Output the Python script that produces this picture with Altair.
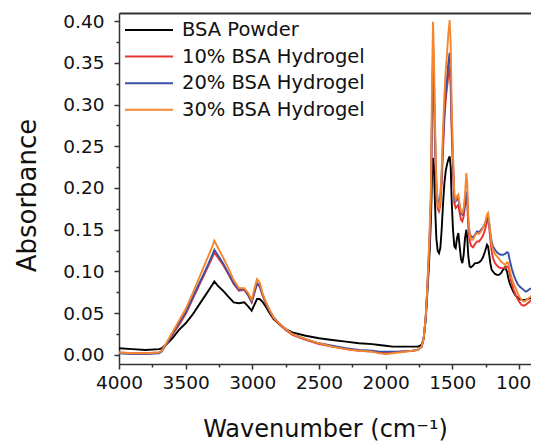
import altair as alt
import pandas as pd

# wavenumber grid (cm-1), 120 points, 10 per line
wavenumber = [
    4000, 3900, 3800, 3700, 3680, 3650, 3600, 3550, 3500, 3450,
    3400, 3350, 3300, 3285, 3260, 3220, 3180, 3140, 3100, 3060,
    3030, 3005, 2985, 2965, 2945, 2925, 2900, 2870, 2840, 2800,
    2750, 2700, 2600, 2500, 2400, 2300, 2200, 2100, 2050, 2000,
    1950, 1900, 1800, 1760, 1730, 1715, 1700, 1690, 1680, 1670,
    1660, 1652, 1645, 1638, 1630, 1620, 1610, 1600, 1590, 1580,
    1570, 1560, 1550, 1540, 1530, 1520, 1512, 1505, 1495, 1485,
    1475, 1465, 1455, 1445, 1435, 1425, 1415, 1405, 1395, 1388,
    1380, 1370, 1360, 1345, 1330, 1315, 1300, 1285, 1270, 1255,
    1240, 1232, 1225, 1215, 1205, 1195, 1180, 1165, 1150, 1135,
    1120, 1105, 1090, 1080, 1070, 1055, 1040, 1025, 1010, 995,
    980, 965, 950, 935, 920, 905, 890, 875, 860, 850,
]

bsa_powder = [
    0.008, 0.007, 0.006, 0.007, 0.008, 0.012, 0.020, 0.030, 0.038, 0.048,
    0.060, 0.072, 0.084, 0.088, 0.083, 0.077, 0.070, 0.063, 0.062, 0.063,
    0.058, 0.053, 0.060, 0.067, 0.067, 0.064, 0.058, 0.050, 0.043, 0.037,
    0.031, 0.027, 0.023, 0.020, 0.018, 0.016, 0.014, 0.013, 0.012, 0.011,
    0.010, 0.010, 0.010, 0.010, 0.012, 0.020, 0.042, 0.068, 0.095, 0.125,
    0.165, 0.215, 0.236, 0.225, 0.180, 0.140, 0.125, 0.122, 0.128, 0.150,
    0.180, 0.205, 0.220, 0.228, 0.234, 0.238, 0.225, 0.185, 0.150, 0.130,
    0.128, 0.140, 0.146, 0.130, 0.115, 0.110, 0.120, 0.140, 0.150, 0.140,
    0.118, 0.106, 0.105, 0.107, 0.110, 0.110, 0.111, 0.113, 0.117, 0.124,
    0.132, 0.130, 0.122, 0.110, 0.102, 0.100, 0.097, 0.096, 0.096, 0.098,
    0.102, 0.105, 0.100, 0.092, 0.086, 0.080, 0.075, 0.071, 0.069, 0.067,
    0.066, 0.066, 0.066, 0.067, 0.068, 0.068, 0.067, 0.066, 0.065, 0.064,
]

hydrogel_10 = [
    0.003, 0.002, 0.002, 0.003, 0.005, 0.012, 0.024, 0.036, 0.049, 0.066,
    0.083, 0.100, 0.117, 0.123, 0.117, 0.108, 0.097, 0.085, 0.077, 0.078,
    0.071, 0.063, 0.074, 0.085, 0.082, 0.072, 0.062, 0.052, 0.044, 0.037,
    0.030, 0.024, 0.018, 0.013, 0.010, 0.007, 0.005, 0.004, 0.003, 0.002,
    0.003, 0.004, 0.005, 0.006, 0.010, 0.020, 0.044, 0.072, 0.104, 0.140,
    0.188, 0.290, 0.335, 0.310, 0.250, 0.195, 0.175, 0.172, 0.180, 0.205,
    0.245, 0.280, 0.305, 0.320, 0.335, 0.345, 0.318, 0.268, 0.222, 0.182,
    0.176, 0.178, 0.180, 0.170, 0.162, 0.160, 0.166, 0.178, 0.190, 0.183,
    0.152, 0.137, 0.131, 0.129, 0.133, 0.136, 0.136, 0.139, 0.143, 0.150,
    0.160, 0.163, 0.155, 0.138, 0.124, 0.116, 0.110, 0.107, 0.105, 0.104,
    0.104, 0.104, 0.106, 0.105, 0.097, 0.086, 0.078, 0.072, 0.067, 0.063,
    0.060, 0.059, 0.060, 0.062, 0.064, 0.066, 0.066, 0.065, 0.065, 0.064,
]

hydrogel_20 = [
    0.002, 0.001, 0.001, 0.002, 0.004, 0.012, 0.025, 0.038, 0.051, 0.068,
    0.085, 0.102, 0.120, 0.126, 0.120, 0.110, 0.098, 0.086, 0.078, 0.079,
    0.072, 0.064, 0.075, 0.086, 0.083, 0.073, 0.063, 0.053, 0.045, 0.038,
    0.031, 0.025, 0.019, 0.014, 0.011, 0.008, 0.006, 0.005, 0.004, 0.004,
    0.004, 0.004, 0.005, 0.006, 0.010, 0.020, 0.044, 0.073, 0.105, 0.142,
    0.190, 0.300, 0.355, 0.330, 0.265, 0.205, 0.185, 0.182, 0.190, 0.215,
    0.255, 0.290, 0.315, 0.330, 0.350, 0.362, 0.335, 0.280, 0.230, 0.190,
    0.184, 0.186, 0.188, 0.178, 0.170, 0.168, 0.172, 0.182, 0.196, 0.190,
    0.160, 0.146, 0.142, 0.141, 0.144, 0.148, 0.147, 0.150, 0.153, 0.157,
    0.164, 0.166, 0.160, 0.146, 0.136, 0.130, 0.126, 0.123, 0.121, 0.120,
    0.120, 0.121, 0.123, 0.122, 0.114, 0.104, 0.096, 0.090, 0.085, 0.082,
    0.080, 0.078, 0.076, 0.077, 0.079, 0.080, 0.079, 0.078, 0.078, 0.078,
]

hydrogel_30 = [
    0.003, 0.002, 0.002, 0.003, 0.005, 0.013, 0.027, 0.041, 0.055, 0.073,
    0.092, 0.111, 0.130, 0.137, 0.129, 0.117, 0.104, 0.090, 0.080, 0.080,
    0.074, 0.066, 0.079, 0.091, 0.087, 0.075, 0.064, 0.054, 0.045, 0.038,
    0.031, 0.025, 0.019, 0.014, 0.010, 0.007, 0.005, 0.004, 0.002, 0.001,
    0.002, 0.003, 0.005, 0.006, 0.010, 0.020, 0.045, 0.075, 0.110, 0.150,
    0.205, 0.330, 0.399, 0.360, 0.280, 0.210, 0.180, 0.176, 0.186, 0.220,
    0.270, 0.310, 0.340, 0.360, 0.385, 0.401, 0.370, 0.300, 0.240, 0.192,
    0.186, 0.190, 0.192, 0.180, 0.172, 0.170, 0.176, 0.192, 0.218, 0.205,
    0.165, 0.145, 0.138, 0.138, 0.143, 0.146, 0.145, 0.148, 0.152, 0.158,
    0.168, 0.170, 0.162, 0.145, 0.132, 0.126, 0.121, 0.118, 0.115, 0.112,
    0.110, 0.108, 0.111, 0.110, 0.102, 0.092, 0.085, 0.080, 0.074, 0.069,
    0.066, 0.064, 0.065, 0.067, 0.069, 0.071, 0.072, 0.070, 0.069, 0.068,
]

series_names = ["BSA Powder", "10% BSA Hydrogel", "20% BSA Hydrogel", "30% BSA Hydrogel"]
series_values = [bsa_powder, hydrogel_10, hydrogel_20, hydrogel_30]
series_colors = ["#000000", "#e8352f", "#3c4fa8", "#f5862f"]

x_major = [4000, 3500, 3000, 2500, 2000, 1500, 1000]
x_minor = [3750, 3250, 2750, 2250, 1750, 1250]
y_major = [0.00, 0.05, 0.10, 0.15, 0.20, 0.25, 0.30, 0.35, 0.40]
y_minor = [0.025, 0.075, 0.125, 0.175, 0.225, 0.275, 0.325, 0.375]

x_domain = [910, 4000]
y_domain = [-0.0108, 0.4096]

FONT = "DejaVu Sans"
AX = "#333333"

xscale = alt.Scale(domain=x_domain, reverse=True, nice=False, zero=False)
yscale = alt.Scale(domain=y_domain, nice=False, zero=False)

major_x = alt.Axis(orient="bottom", values=x_major, format="d", grid=False,
                   tickSize=5, tickWidth=1.5, tickColor=AX,
                   domainColor=AX, domainWidth=1.5,
                   labelFont=FONT, labelFontSize=18.5, labelColor="#111111",
                   labelPadding=4, labelOverlap=False, labelFlush=False,
                   title="Wavenumber (cm⁻¹)", titleFont=FONT, titleFontSize=24,
                   titleFontWeight="normal", titleColor="#111111", titlePadding=26)
major_y = alt.Axis(orient="left", values=y_major, format=".2f", grid=False,
                   tickSize=5, tickWidth=1.5, tickColor=AX,
                   domainColor=AX, domainWidth=1.5,
                   labelFont=FONT, labelFontSize=18.5, labelColor="#111111",
                   labelPadding=10, labelOverlap=False, labelFlush=False,
                   title="Absorbance", titleFont=FONT, titleFontSize=26,
                   titleFontWeight="normal", titleColor="#111111", titlePadding=22,
                   titleY=182)

layers = []
for i, (name, vals, col) in enumerate(zip(series_names, series_values, series_colors)):
    d = pd.DataFrame({"wn": wavenumber, "abs": vals})
    layers.append(
        alt.Chart(d).mark_line(color=col, strokeWidth=1.9, clip=True).encode(
            x=alt.X("wn:Q", scale=xscale, axis=major_x if i == 0 else None),
            y=alt.Y("abs:Q", scale=yscale, axis=major_y if i == 0 else None),
        )
    )

frame_df = pd.DataFrame({"wn": x_domain, "abs": [0.0, 0.0]})
minor_layer = alt.Chart(frame_df).mark_point(opacity=0).encode(
    x=alt.X("wn:Q", scale=xscale,
            axis=alt.Axis(orient="bottom", values=x_minor, labels=False, domain=False,
                          grid=False, tickSize=3, tickWidth=1.5, tickColor=AX, title=None)),
    y=alt.Y("abs:Q", scale=yscale,
            axis=alt.Axis(orient="left", values=y_minor, labels=False, domain=False,
                          grid=False, tickSize=3, tickWidth=1.5, tickColor=AX, title=None)),
)
top_layer = alt.Chart(frame_df).mark_point(opacity=0).encode(
    x=alt.X("wn:Q", scale=xscale,
            axis=alt.Axis(orient="top", labels=False, ticks=False, domain=True,
                          domainColor=AX, domainWidth=2, grid=False, title=None)),
    y=alt.Y("abs:Q", scale=yscale, axis=None),
)
layers += [minor_layer, top_layer]

for i, (name, col) in enumerate(zip(series_names, series_colors)):
    ld = pd.DataFrame({"label": [name]})
    yy = 17 + 26.6 * i
    layers.append(alt.Chart(ld).mark_rule(color=col, strokeWidth=2).encode(
        x=alt.value(6), x2=alt.value(54), y=alt.value(yy)))
    layers.append(alt.Chart(ld).mark_text(align="left", baseline="middle", font=FONT,
                                          fontSize=19.5, color="#111111").encode(
        x=alt.value(63), y=alt.value(yy), text="label:N"))

chart = alt.layer(*layers).resolve_axis(x="independent", y="independent").properties(
    width=412, height=351,
    padding={"left": 111, "top": 5, "right": 0, "bottom": 80},
    autosize=alt.AutoSizeParams(type="none"),
    background="white",
).configure_view(stroke=None)

chart.save("out.html", embed_options={"renderer": "svg", "actions": False})
